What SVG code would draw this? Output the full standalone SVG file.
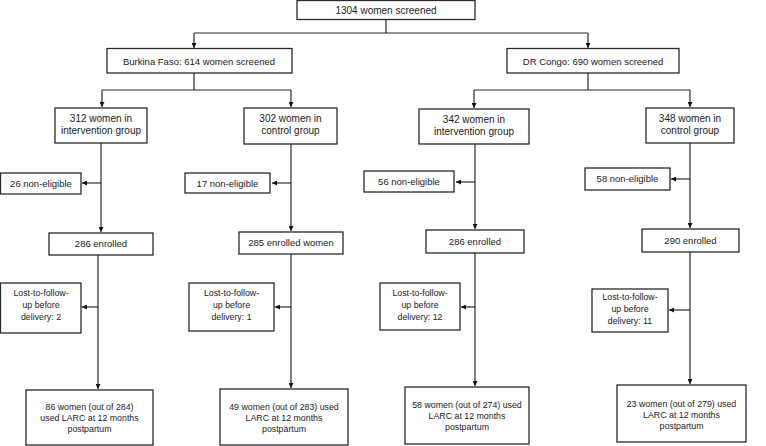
<svg xmlns="http://www.w3.org/2000/svg" width="766" height="446" viewBox="0 0 766 446">
<defs>
<marker id="ah" viewBox="0 0 10 10" refX="10" refY="5" markerWidth="5" markerHeight="5" orient="auto" markerUnits="userSpaceOnUse">
<path d="M0,0 L10,5 L0,10 z" fill="#111"/>
</marker>
<style>
.b{fill:#fff;stroke:#2a2a2a;stroke-width:1.3}
.t{font-family:"Liberation Sans",Arial,sans-serif;font-size:10px;fill:#1a1a1a;text-anchor:middle}
.m{font-size:9.5px}
.s{font-size:8.8px}
.c{fill:none;stroke:#2a2a2a;stroke-width:1.2}
.a{fill:none;stroke:#2a2a2a;stroke-width:1.2;marker-end:url(#ah)}
</style>
</defs>
<rect width="766" height="446" fill="#fff"/>
<g id="connectors">
<path class="c" d="M386,19 V33 M194,33 H588"/>
<path class="a" d="M194,33 V48"/>
<path class="a" d="M588,33 V48"/>
<path class="c" d="M194,73 V90 M102,90 H291"/>
<path class="a" d="M102,90 V107"/>
<path class="a" d="M291,90 V107"/>
<path class="c" d="M588,73 V90 M474,90 H690"/>
<path class="a" d="M474,90 V108"/>
<path class="a" d="M690,90 V107"/>
<path class="a" d="M101,143 V232"/>
<path class="a" d="M101,183 H82"/>
<path class="a" d="M291,144 V231"/>
<path class="a" d="M291,183 H272"/>
<path class="a" d="M475,144 V229"/>
<path class="a" d="M475,182 H456"/>
<path class="a" d="M690,143 V228"/>
<path class="a" d="M690,179 H671"/>
<path class="a" d="M98,255 V389"/>
<path class="a" d="M98,307 H82"/>
<path class="a" d="M291,254 V388"/>
<path class="a" d="M291,307 H275"/>
<path class="a" d="M475,253 V386"/>
<path class="a" d="M475,307 H461"/>
<path class="a" d="M690,252 V384"/>
<path class="a" d="M690,310 H669"/>
</g>
<g id="n-total"><rect class="b" x="297" y="0.5" width="178" height="19"/><text class="t" x="386" y="13.5">1304 women screened</text></g>
<g id="n-bf"><rect class="b" x="107" y="48.5" width="185" height="24.5"/><text class="t m" x="199" y="64.5">Burkina Faso: 614 women screened</text></g>
<g id="n-drc"><rect class="b" x="507" y="48.5" width="172" height="24.5"/><text class="t m" x="593" y="64.5">DR Congo: 690 women screened</text></g>
<g id="n-bf-int"><rect class="b" x="55" y="108" width="92" height="35"/><text class="t" x="101" y="122">312 women in</text><text class="t" x="101" y="134">intervention group</text></g>
<g id="n-bf-ctl"><rect class="b" x="244" y="108" width="93" height="36"/><text class="t" x="290.5" y="122">302 women in</text><text class="t" x="290.5" y="134">control group</text></g>
<g id="n-drc-int"><rect class="b" x="419" y="109" width="110" height="35"/><text class="t" x="474" y="123">342 women in</text><text class="t" x="474" y="135">intervention group</text></g>
<g id="n-drc-ctl"><rect class="b" x="646" y="108" width="88" height="35"/><text class="t" x="690" y="122">348 women in</text><text class="t" x="690" y="134">control group</text></g>
<g id="n-ne1"><rect class="b" x="0.5" y="173" width="80.5" height="21"/><text class="t m" x="41" y="187">26 non-eligible</text></g>
<g id="n-ne2"><rect class="b" x="185" y="173" width="85" height="20"/><text class="t m" x="227.5" y="186.5">17 non-eligible</text></g>
<g id="n-ne3"><rect class="b" x="364" y="171" width="90" height="21"/><text class="t m" x="409" y="185">56 non-eligible</text></g>
<g id="n-ne4"><rect class="b" x="585" y="168" width="85" height="22"/><text class="t m" x="627.5" y="182">58 non-eligible</text></g>
<g id="n-en1"><rect class="b" x="49" y="233" width="104" height="22"/><text class="t m" x="101" y="247">286 enrolled</text></g>
<g id="n-en2"><rect class="b" x="239" y="232" width="104" height="22"/><text class="t m" x="291" y="246">285 enrolled women</text></g>
<g id="n-en3"><rect class="b" x="426" y="230" width="98" height="23"/><text class="t m" x="475" y="244.5">286 enrolled</text></g>
<g id="n-en4"><rect class="b" x="642" y="229" width="97" height="23"/><text class="t m" x="690.5" y="243.5">290 enrolled</text></g>
<g id="n-lf1"><rect class="b" x="0.5" y="283" width="80.5" height="50"/><text class="t s" x="41" y="296">Lost-to-follow-</text><text class="t s" x="41" y="308">up before</text><text class="t s" x="41" y="320">delivery: 2</text></g>
<g id="n-lf2"><rect class="b" x="189" y="283" width="85" height="48"/><text class="t s" x="231.5" y="296">Lost-to-follow-</text><text class="t s" x="231.5" y="308">up before</text><text class="t s" x="231.5" y="320">delivery: 1</text></g>
<g id="n-lf3"><rect class="b" x="380" y="283" width="80" height="47"/><text class="t s" x="420" y="296">Lost-to-follow-</text><text class="t s" x="420" y="308">up before</text><text class="t s" x="420" y="320">delivery: 12</text></g>
<g id="n-lf4"><rect class="b" x="592" y="289" width="76" height="43"/><text class="t s" x="630" y="300">Lost-to-follow-</text><text class="t s" x="630" y="312">up before</text><text class="t s" x="630" y="324">delivery: 11</text></g>
<g id="n-r1"><rect class="b" x="26" y="390" width="127" height="55"/><text class="t s" x="89.5" y="410">86 women (out of 284)</text><text class="t s" x="89.5" y="421">used LARC at 12 months</text><text class="t s" x="89.5" y="432">postpartum</text></g>
<g id="n-r2"><rect class="b" x="220" y="389" width="128" height="56"/><text class="t s" x="284" y="410">49 women (out of 283) used</text><text class="t s" x="284" y="421">LARC at 12 months</text><text class="t s" x="284" y="432">postpartum</text></g>
<g id="n-r3"><rect class="b" x="405" y="387" width="124" height="57"/><text class="t s" x="467" y="408">58 women (out of 274) used</text><text class="t s" x="467" y="419">LARC at 12 months</text><text class="t s" x="467" y="430">postpartum</text></g>
<g id="n-r4"><rect class="b" x="617" y="385" width="129" height="57"/><text class="t s" x="681.5" y="407">23 women (out of 279) used</text><text class="t s" x="681.5" y="418">LARC at 12 months</text><text class="t s" x="681.5" y="429">postpartum</text></g>
</svg>
